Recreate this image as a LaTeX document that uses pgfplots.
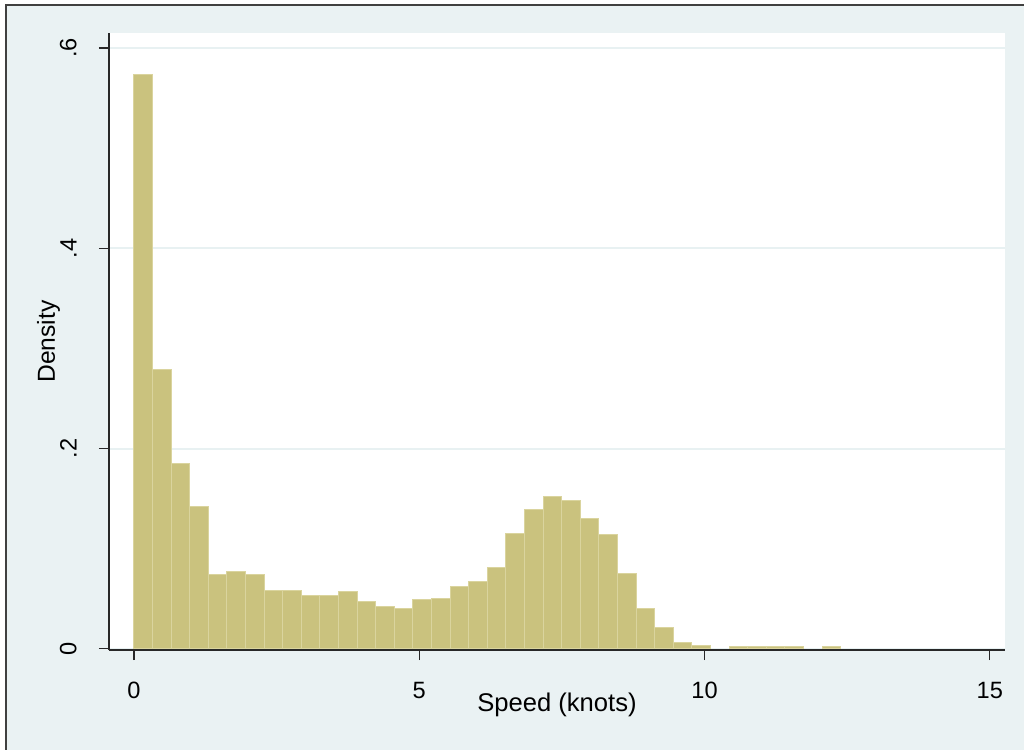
\documentclass[border=0pt]{standalone}
\usepackage{pgfplots}
\pgfplotsset{compat=1.18}
\usepackage{fontspec}
\setmainfont{Liberation Sans}
\definecolor{bgc}{RGB}{234,242,243}
\definecolor{gridc}{RGB}{232,241,242}
\definecolor{barfill}{RGB}{202,194,126}
\definecolor{baredge}{RGB}{218,212,158}
\definecolor{axc}{RGB}{40,40,40}
\begin{document}
\begin{tikzpicture}
\useasboundingbox (-54.5pt,-50pt) rectangle (457.5pt,325pt);
\fill[white] (-54.5pt,-50pt) rectangle (457.5pt,325pt);
\fill[bgc] (-51.25pt,-50pt) rectangle (457.5pt,322.5pt);
\draw[line width=1pt, black!75] (-51.25pt,-50pt) -- (-51.25pt,322.5pt) -- (457.5pt,322.5pt);
\begin{axis}[
  at={(0,0)}, anchor=south west,
  scale only axis, width=448pt, height=308.5pt,
  xmin=-0.438, xmax=15.267,
  ymin=-0.0012, ymax=0.615,
  axis x line*=bottom, axis y line*=left,
  axis line style={-, draw=axc, line width=0.6pt},
  axis background/.style={fill=white},
  xtick={0,5,10,15}, xticklabels={0,5,10,15},
  ytick={0,0.2,0.4,0.6}, yticklabels={0,.2,.4,.6},
  tick align=outside, major tick length=5pt,
  tick style={draw=axc, line width=0.6pt},
  minor tick num=0,
  ymajorgrids, grid style={line width=1pt, draw=gridc},
  tick label style={font=\fontsize{11.8}{14}\selectfont, text=black},
  xticklabel style={anchor=north, inner sep=0pt},
  yticklabel style={rotate=90, anchor=south, inner sep=0pt},
  xticklabel shift=11pt, yticklabel shift=11pt,
  every axis x label/.style={at={(axis description cs:0.5,-0.0989)}, anchor=base, font=\fontsize{12.8}{15}\selectfont},
  every axis y label/.style={at={(axis description cs:-0.0603,0.5)}, rotate=90, anchor=base, font=\fontsize{12.3}{15}\selectfont},
  xlabel={Speed (knots)},
  ylabel={Density},
]
\addplot[ybar interval, fill=barfill, draw=baredge, line width=0.5pt] coordinates {
(0.000,0.574) (0.326,0.279) (0.652,0.185) (0.978,0.142) (1.304,0.0745)
(1.630,0.077) (1.956,0.0745) (2.282,0.058) (2.608,0.058) (2.934,0.053)
(3.260,0.053) (3.586,0.057) (3.912,0.0477) (4.238,0.0427) (4.564,0.040)
(4.890,0.0494) (5.216,0.0507) (5.542,0.0626) (5.868,0.0676) (6.194,0.081)
(6.520,0.115) (6.846,0.139) (7.172,0.152) (7.498,0.148) (7.824,0.130)
(8.150,0.114) (8.476,0.0756) (8.802,0.0405) (9.128,0.021) (9.454,0.0062)
(9.780,0.0035) (10.106,0)
};
\addplot[ybar interval, fill=barfill, draw=baredge, line width=0.5pt] coordinates {
(10.432,0.002) (10.758,0.002) (11.084,0.002) (11.410,0.002) (11.736,0)
};
\addplot[ybar interval, fill=barfill, draw=baredge, line width=0.5pt] coordinates {
(12.062,0.002) (12.388,0)
};
\end{axis}
\end{tikzpicture}
\end{document}
